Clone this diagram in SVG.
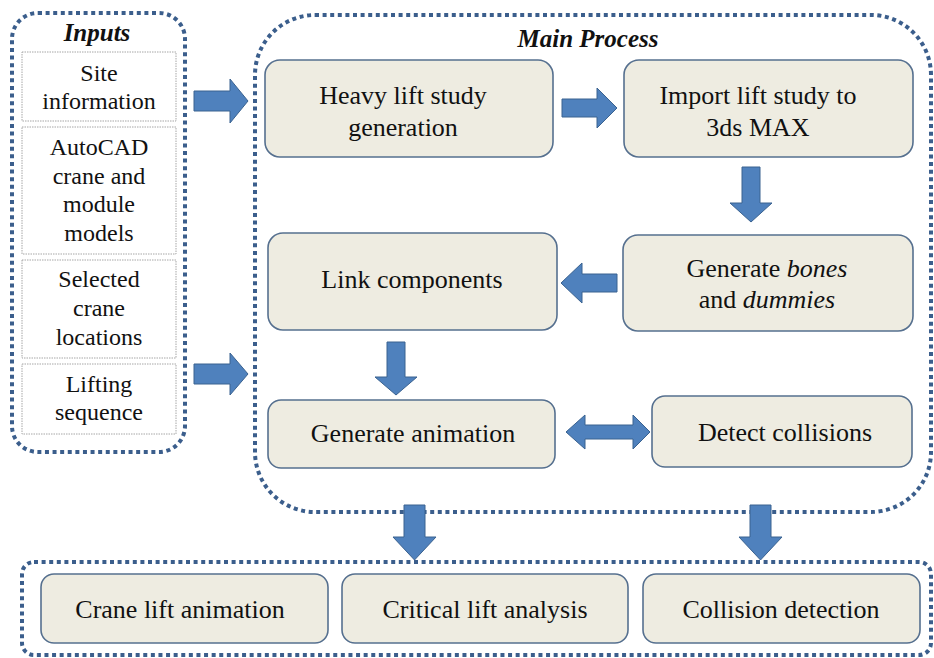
<svg xmlns="http://www.w3.org/2000/svg" width="934" height="658" viewBox="0 0 934 658" font-family="'Liberation Serif', 'Times New Roman', serif">
  <style>
    .group { fill: none; stroke: #3B5E8C; stroke-width: 4; stroke-dasharray: 4 3.6; }
    .inbox { fill: #FFFFFF; stroke: #A6A6A6; stroke-width: 1; stroke-dasharray: 1.5 1; }
    .node { fill: #EEECE1; stroke: #56708F; stroke-width: 1.6; }
    .arrow { fill: #4F81BD; stroke: #3A6290; stroke-width: 1; }
    text { font-family: "Liberation Serif", "Times New Roman", serif; fill: #111111; text-anchor: middle; }
    .in { font-size: 24px; }
    .lbl { font-size: 26px; }
    .title { font-size: 25px; font-weight: bold; font-style: italic; }
  </style>
  <rect width="934" height="658" fill="#FFFFFF"/>

  <!-- dotted group frames -->
  <g id="frames">
    <rect class="group" x="12" y="13" width="173" height="439" rx="26"/>
    <rect class="group" x="255" y="15" width="676" height="497" rx="60"/>
    <rect class="group" x="22" y="562" width="909" height="93" rx="12"/>
  </g>

  <!-- inputs column -->
  <g id="inputs">
    <text class="title" x="97" y="41">Inputs</text>
    <g id="in-site">
      <rect class="inbox" x="22" y="52" width="154" height="69"/>
      <text class="in" x="99" y="81">Site</text>
      <text class="in" x="99" y="109">information</text>
    </g>
    <g id="in-autocad">
      <rect class="inbox" x="22" y="127" width="154" height="127"/>
      <text class="in" x="99" y="155">AutoCAD</text>
      <text class="in" x="99" y="183.5">crane and</text>
      <text class="in" x="99" y="212">module</text>
      <text class="in" x="99" y="240.5">models</text>
    </g>
    <g id="in-locations">
      <rect class="inbox" x="22" y="260" width="154" height="98"/>
      <text class="in" x="99" y="287">Selected</text>
      <text class="in" x="99" y="316">crane</text>
      <text class="in" x="99" y="345">locations</text>
    </g>
    <g id="in-sequence">
      <rect class="inbox" x="22" y="364" width="154" height="70"/>
      <text class="in" x="99" y="392">Lifting</text>
      <text class="in" x="99" y="420">sequence</text>
    </g>
  </g>

  <!-- main process steps -->
  <text class="title" x="588" y="47">Main Process</text>

  <g id="heavy-lift">
    <rect class="node" x="265" y="60" width="288" height="97" rx="15"/>
    <text class="lbl" x="403" y="104">Heavy lift study</text>
    <text class="lbl" x="403" y="136">generation</text>
  </g>
  <g id="import">
    <rect class="node" x="624" y="60" width="289" height="97" rx="15"/>
    <text class="lbl" x="758" y="104">Import lift study to</text>
    <text class="lbl" x="758" y="136">3ds MAX</text>
  </g>
  <g id="bones">
    <rect class="node" x="623" y="235" width="290" height="96" rx="15"/>
    <text class="lbl" x="767" y="277">Generate <tspan font-style="italic">bones</tspan></text>
    <text class="lbl" x="767" y="308">and <tspan font-style="italic">dummies</tspan></text>
  </g>
  <g id="link">
    <rect class="node" x="268" y="233" width="289" height="97" rx="15"/>
    <text class="lbl" x="412" y="288">Link components</text>
  </g>
  <g id="animation">
    <rect class="node" x="268" y="400" width="287" height="68" rx="13"/>
    <text class="lbl" x="413" y="442">Generate animation</text>
  </g>
  <g id="detect">
    <rect class="node" x="652" y="396" width="260" height="71" rx="13"/>
    <text class="lbl" x="785" y="441">Detect collisions</text>
  </g>

  <!-- outputs row -->
  <g id="out-animation">
    <rect class="node" x="41" y="574" width="287" height="69" rx="13"/>
    <text class="lbl" x="180" y="618">Crane lift animation</text>
  </g>
  <g id="out-critical">
    <rect class="node" x="342" y="574" width="286" height="69" rx="13"/>
    <text class="lbl" x="485" y="618">Critical lift analysis</text>
  </g>
  <g id="out-collision">
    <rect class="node" x="643" y="574" width="277" height="69" rx="13"/>
    <text class="lbl" x="781" y="618">Collision detection</text>
  </g>

  <!-- block arrows -->
  <g id="connectors">
    <polygon class="arrow" points="194,91 230,91 230,79 248,101 230,123 230,111 194,111"/>
    <polygon class="arrow" points="194,364 230,364 230,353 248,374 230,395 230,384 194,384"/>
    <polygon class="arrow" points="562,99 597,99 597,88 617,108 597,128 597,117 562,117"/>
    <polygon class="arrow" points="742,167 760,167 760,203 772,203 751,222 730,203 742,203"/>
    <polygon class="arrow" points="617,274 582,274 582,263 561,283 582,303 582,292 617,292"/>
    <polygon class="arrow" points="387,342 405,342 405,377 417,377 396,395 375,377 387,377"/>
    <polygon class="arrow" points="566,432 585,415 585,425 633,425 633,415 650,432 633,449 633,439 585,439 585,449"/>
    <polygon class="arrow" points="404,505 425,505 425,537 436,537 414.5,560 393,537 404,537"/>
    <polygon class="arrow" points="750,505 771,505 771,537 782,537 760.5,560 739,537 750,537"/>
  </g>
</svg>
